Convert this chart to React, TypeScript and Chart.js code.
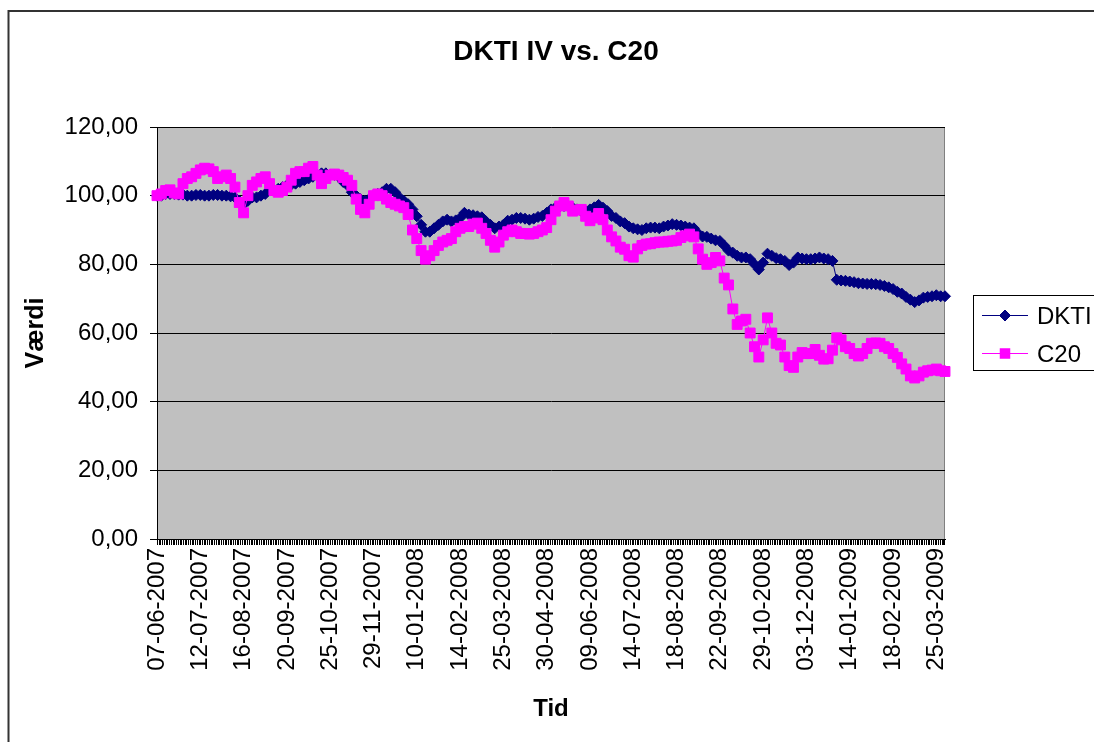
import React, { useEffect, useRef } from "react";
import { Chart, registerables } from "chart.js";

Chart.register(...registerables);

// X-axis tick labels (one every 10 half-weekly readings)
const tickLabels = [
  "07-06-2007", "12-07-2007", "16-08-2007", "20-09-2007", "25-10-2007",
  "29-11-2007", "10-01-2008", "14-02-2008", "25-03-2008", "30-04-2008",
  "09-06-2008", "14-07-2008", "18-08-2008", "22-09-2008", "29-10-2008",
  "03-12-2008", "14-01-2009", "18-02-2009", "25-03-2009",
];
const pointsPerLabel = 10;
const daysPerPoint = 2.5;

// Half-weekly readings of the two series
const dktiValues = [
  100, 100, 100.5, 100.5, 100.5, 100.3, 100.3, 100, 100, 100.2,
  100.2, 100, 100, 100.2, 100.2, 100, 100, 99.8, 99.5, 98.5,
  97.5, 98.5, 99.5, 99.5, 100, 100.5, 101.5, 101.8, 102, 102.5,
  103, 103.2, 103.5, 104, 104.5, 105, 105.5, 106, 106.5, 106.5,
  106, 106, 105.5, 104, 103, 101, 100, 99, 98.5, 99,
  100, 100.5, 101, 102, 102, 101, 99.5, 98.5, 97.5, 96,
  94, 91.5, 89.5, 89.5, 90.5, 91.5, 92.5, 93, 92.5, 92.8,
  93.5, 95, 94.5, 94.3, 94, 93.7, 92.5, 91.5, 90.5, 91,
  91.5, 92.7, 93, 93.5, 93.5, 93.3, 93, 93.3, 93.8, 94.1,
  95, 96, 96.5, 96.8, 97, 97, 96.5, 96, 95.5, 95.5,
  96, 96.6, 97.3, 96.5, 95.5, 94.1, 93.5, 92.5, 92, 91,
  90.5, 90.2, 90, 90.5, 90.7, 90.7, 90.5, 91, 91.3, 91.7,
  91.5, 91.3, 91, 90.7, 90.5, 89, 88.1, 88, 87.5, 87,
  86.8, 85.5, 84, 83.4, 82.5, 82, 82, 81.5, 80, 78.5,
  80.5, 83.1, 82.5, 81.8, 81.5, 81, 79.8, 80.5, 82, 81.7,
  81.5, 81.5, 81.7, 82, 81.7, 81.5, 81, 75.5, 75.3, 75.2,
  75, 74.8, 74.5, 74.4, 74.3, 74.3, 74.2, 74, 73.7, 73.3,
  72.8, 72, 71.5, 70.5, 69.7, 69, 69.5, 70.3, 70.5, 70.7,
  71, 70.7, 70.7,
];
const c20Values = [
  100, 100.5, 101.5, 101.7, 100.8, 100.5, 103.5, 105, 105.5, 106.5,
  107.5, 108, 107.8, 107, 105, 105.5, 106, 105, 102.5, 98,
  95, 100, 103, 104, 105, 105.5, 103.5, 101.5, 101, 101.5,
  102.5, 104.5, 106.5, 107, 107, 108, 108.5, 106, 103.5, 105,
  106, 106.3, 106, 105.3, 104.5, 103, 99, 96, 95, 97.5,
  100, 100.5, 100, 99, 98, 97.5, 97, 96.5, 94.5, 90,
  87.5, 84, 81.5, 82.5, 84, 85.5, 86.5, 87, 87.5, 89.5,
  90.5, 91, 91, 91.7, 92, 90.5, 89, 87, 85, 86.5,
  88.5, 89.5, 90, 89.5, 89, 89, 88.8, 89, 89.5, 90,
  90.7, 93, 95.5, 97, 98, 97, 95.5, 95.8, 96, 94,
  92.7, 93.5, 94.8, 93, 90, 88, 86.8, 85, 84.4, 82.5,
  82.1, 84.5, 85.5, 85.9, 86, 86.3, 86.5, 86.5, 86.7, 86.8,
  87, 87.8, 88.3, 88.8, 88, 84.5, 81.5, 80, 80.5, 82,
  81, 76, 74, 67, 62.5, 63.5, 64, 60, 56, 53,
  58, 64.4, 60, 57, 56.5, 53, 50.5, 50, 53, 54.3,
  54, 54, 55.2, 53.5, 52.4, 52.5, 55, 58.6, 58, 56,
  55.5, 54, 53.3, 54, 55.5, 57, 57.1, 57, 56, 55.5,
  54, 52.9, 51, 49.5, 47.5, 46.9, 47.5, 48.6, 49, 49.2,
  49.5, 49, 48.8,
];

const seriesNames = ["DKTI", "C20"];
const chartTitle = "DKTI IV vs. C20";
const xTitle = "Tid";
const yTitle = "Værdi";

const FONT = "'Liberation Sans', Arial, sans-serif";
const NAVY = "#000080";
const MAGENTA = "#FF00FF";

const categories = dktiValues.map((_, i) =>
  i % pointsPerLabel === 0 ? tickLabels[i / pointsPerLabel] ?? "" : ""
);

function drawDiamond(ctx: CanvasRenderingContext2D, x: number, y: number, r: number, color: string) {
  ctx.beginPath();
  ctx.moveTo(x, y - r);
  ctx.lineTo(x + r, y);
  ctx.lineTo(x, y + r);
  ctx.lineTo(x - r, y);
  ctx.closePath();
  ctx.fillStyle = color;
  ctx.fill();
  ctx.strokeStyle = color;
  ctx.lineWidth = 1;
  ctx.stroke();
}

function drawSquare(ctx: CanvasRenderingContext2D, x: number, y: number, s: number, color: string) {
  ctx.fillStyle = color;
  ctx.fillRect(x - s / 2, y - s / 2, s, s);
}

const decorPlugin = {
  id: "decor",
  beforeDraw(chart: any) {
    const { ctx, chartArea: a } = chart;
    ctx.save();
    ctx.fillStyle = "#ffffff";
    ctx.fillRect(0, 0, chart.width, chart.height);
    ctx.fillStyle = "#C0C0C0";
    ctx.fillRect(a.left, a.top, a.right - a.left, a.bottom - a.top);
    ctx.strokeStyle = "#808080";
    ctx.lineWidth = 1;
    ctx.strokeRect(a.left + 0.5, a.top + 0.5, a.right - a.left - 1, a.bottom - a.top);
    ctx.restore();
  },
  afterDraw(chart: any) {
    const { ctx, chartArea: a } = chart;
    const xs = chart.scales.x;
    ctx.save();
    // dense (daily) category tick marks
    ctx.strokeStyle = "#000";
    ctx.lineWidth = 1;
    ctx.beginPath();
    const n = chart.data.labels.length;
    const pStart = xs.getPixelForValue(0);
    const pEnd = xs.getPixelForValue(n - 1);
    const count = Math.round((n - 1) * daysPerPoint);
    for (let k = 0; k <= count; k++) {
      let x = Math.round(pStart + ((pEnd - pStart) * k) / count) + 0.5;
      if (k === count) x -= 1;
      ctx.moveTo(x, a.bottom);
      ctx.lineTo(x, a.bottom + 6);
    }
    ctx.stroke();

    // outer chart frame
    ctx.strokeStyle = "#333333";
    ctx.lineWidth = 2;
    ctx.beginPath();
    ctx.moveTo(8.5, chart.height + 10);
    ctx.lineTo(8.5, 11);
    ctx.lineTo(chart.width + 10, 11);
    ctx.stroke();

    // title
    ctx.fillStyle = "#000";
    ctx.font = `bold 28px ${FONT}`;
    ctx.textAlign = "center";
    ctx.textBaseline = "alphabetic";
    ctx.fillText(chartTitle, 556, 60);

    // legend
    ctx.strokeStyle = "#000";
    ctx.lineWidth = 1;
    ctx.strokeRect(973.5, 295.5, 200, 75);
    const rows = [
      { name: seriesNames[0], color: NAVY, y: 315.5, shape: "diamond" },
      { name: seriesNames[1], color: MAGENTA, y: 353.5, shape: "square" },
    ];
    ctx.font = `24px ${FONT}`;
    ctx.textAlign = "left";
    for (const r of rows) {
      ctx.strokeStyle = r.color;
      ctx.lineWidth = 1;
      ctx.beginPath();
      ctx.moveTo(982, r.y);
      ctx.lineTo(1028, r.y);
      ctx.stroke();
      if (r.shape === "diamond") drawDiamond(ctx, 1005, r.y, 5.5, r.color);
      else drawSquare(ctx, 1005, r.y, 10.5, r.color);
      ctx.fillStyle = "#000";
      ctx.fillText(r.name, 1037, r.y + 8);
    }
    ctx.restore();
  },
};

export default function App() {
  const canvasRef = useRef<HTMLCanvasElement | null>(null);

  useEffect(() => {
    const canvas = canvasRef.current;
    if (!canvas) return;
    const chart = new Chart(canvas, {
      type: "line",
      data: {
        labels: categories,
        datasets: [
          {
            label: seriesNames[0],
            data: dktiValues,
            borderColor: NAVY,
            backgroundColor: NAVY,
            borderWidth: 1,
            pointStyle: "rectRot",
            pointRadius: 5.5,
            pointHoverRadius: 5.5,
            pointBorderWidth: 1,
            pointBackgroundColor: NAVY,
            pointBorderColor: NAVY,
            tension: 0,
            clip: false,
            order: 1,
          },
          {
            label: seriesNames[1],
            data: c20Values,
            borderColor: MAGENTA,
            backgroundColor: MAGENTA,
            borderWidth: 1,
            pointStyle: "rect",
            pointRadius: 7,
            pointHoverRadius: 7,
            pointBorderWidth: 1,
            pointBackgroundColor: MAGENTA,
            pointBorderColor: MAGENTA,
            tension: 0,
            clip: false,
            order: 0,
          },
        ],
      },
      options: {
        responsive: false,
        animation: false,
        devicePixelRatio: 1,
        layout: { padding: { left: 8, right: 149, top: 127, bottom: 0 } },
        plugins: {
          legend: { display: false },
          title: { display: false },
          tooltip: { enabled: false },
        },
        scales: {
          x: {
            type: "category",
            offset: false,
            grid: {
              display: true,
              drawOnChartArea: false,
              drawTicks: true,
              tickLength: 6,
              tickColor: "rgba(0,0,0,0)",
            },
            border: { display: true, color: "#000", width: 1 },
            ticks: {
              autoSkip: false,
              maxRotation: 90,
              minRotation: 90,
              padding: 3,
              color: "#000",
              font: { family: FONT, size: 24 },
              callback: (_v: any, i: number) => categories[i],
            },
            title: {
              display: true,
              text: xTitle,
              color: "#000",
              font: { family: FONT, size: 24, weight: "bold" },
              padding: { top: 0, bottom: 18.5 },
            },
            afterFit: (s: any) => {
              s.height = 742 - 539;
            },
          },
          y: {
            min: 0,
            max: 120,
            ticks: {
              stepSize: 20,
              padding: 12,
              color: "#000",
              font: { family: FONT, size: 24 },
              callback: (v: any) => Number(v).toFixed(2).replace(".", ","),
            },
            grid: {
              color: "#000",
              lineWidth: 1,
              tickLength: 7,
              tickColor: "#000",
              drawOnChartArea: true,
            },
            border: { display: true, color: "#000", width: 1 },
            title: {
              display: true,
              text: yTitle,
              color: "#000",
              font: { family: FONT, size: 25, weight: "bold" },
              padding: { top: 13, bottom: 0 },
            },
            afterFit: (s: any) => {
              s.width = 157 - 8;
            },
          },
        },
      } as any,
      plugins: [decorPlugin],
    });
    return () => chart.destroy();
  }, []);

  return (
    <div
      style={{
        position: "fixed",
        left: 0,
        top: 0,
        width: 1094,
        height: 742,
        overflow: "hidden",
        background: "#fff",
      }}
    >
      <canvas ref={canvasRef} width={1094} height={742} style={{ display: "block" }} />
    </div>
  );
}
